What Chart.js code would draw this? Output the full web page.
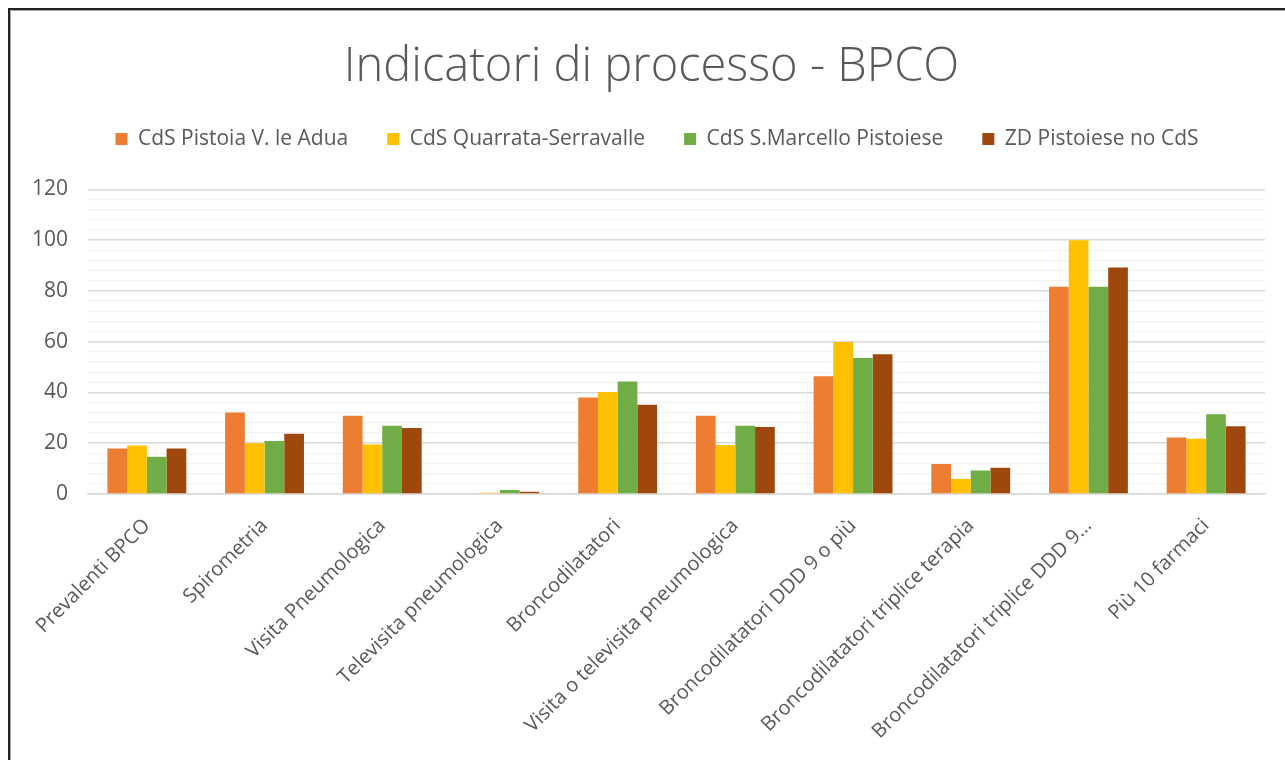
<!DOCTYPE html>
<html>
<head>
<meta charset="utf-8">
<title>Indicatori di processo - BPCO</title>
<script src="https://cdn.jsdelivr.net/npm/chart.js@4/dist/chart.umd.min.js"></script>
<style>
  html, body { margin: 0; padding: 0; background: #fff; overflow: hidden; }
  #wrap { position: relative; width: 1285px; height: 760px; }
  #frame { position: absolute; left: 8px; top: 8px; right: -10px; bottom: -10px;
           border-top: 2px solid #222; border-left: 2px solid #222;
           box-shadow: inset 1px 1px 0 #aaa; pointer-events: none; }
  canvas { position: absolute; left: 0; top: 0; }
</style>
</head>
<body>
<div id="wrap">
  <canvas id="bpcoChart" width="1285" height="760"></canvas>
  <div id="frame"></div>
</div>
<script>
// categories and series (percentages per indicatore)
const categories = [
  'Prevalenti BPCO', 'Spirometria', 'Visita Pneumologica', 'Televisita pneumologica',
  'Broncodilatatori', 'Visita o televisita pneumologica', 'Broncodilatatori DDD 9 o più',
  'Broncodilatatori triplice terapia', 'Broncodilatatori triplice DDD 9…', 'Più 10 farmaci'
];
const seriesNames = ['CdS Pistoia V. le Adua', 'CdS Quarrata-Serravalle', 'CdS S.Marcello Pistoiese', 'ZD Pistoiese no CdS'];
const pistoia   = [17.9, 32.1, 30.8, 0,   38.0, 30.8, 46.4, 11.8, 81.6, 22.3];
const quarrata  = [19.1, 20.0, 19.5, 0.5, 40.2, 19.3, 59.9, 5.9, 100.0, 21.8];
const marcello  = [14.7, 20.9, 26.9, 1.6, 44.3, 26.9, 53.6, 9.3, 81.6, 31.4];
const zdNoCds   = [17.9, 23.7, 26.0, 0.9, 35.2, 26.4, 55.1, 10.3, 89.2, 26.7];
const yTicks = [0, 20, 40, 60, 80, 100, 120];

const colors = ['#ED7D31', '#FFC000', '#70AD47', '#9E480E'];
const txt = '#595959';
const fam = '"Open Sans", "Liberation Sans", sans-serif';

const data = {
  labels: categories,
  datasets: [pistoia, quarrata, marcello, zdNoCds].map((vals, i) => ({
    label: seriesNames[i],
    data: vals,
    backgroundColor: colors[i],
    borderWidth: 0,
    barPercentage: 1,
    categoryPercentage: 0.67
  }))
};

// extra room under the legend, and nudge title/legend to the centre of the frame
const headerTweaks = {
  id: 'headerTweaks',
  afterInit(chart) {
    const fit = chart.legend.fit;
    chart.legend.fit = function () { fit.call(this); this.height += 30; };
  },
  afterLayout(chart) {
    chart.legend.left += 29;
    chart.titleBlock.left += 18;
  }
};

new Chart(document.getElementById('bpcoChart'), {
  type: 'bar',
  data,
  plugins: [headerTweaks],
  options: {
    responsive: false,
    animation: false,
    layout: { padding: { left: 20, right: 20, top: 14, bottom: 0 } },
    plugins: {
      title: {
        display: true,
        text: 'Indicatori di processo - BPCO',
        color: txt,
        font: { family: fam, size: 47, weight: '300' },
        padding: { top: 25, bottom: -6 }
      },
      legend: {
        position: 'top',
        labels: {
          color: txt,
          font: { family: fam, size: 21 },
          boxWidth: 12,
          boxHeight: 12,
          padding: 39
        }
      },
      tooltip: { enabled: false }
    },
    scales: {
      x: {
        grid: { display: false },
        border: { display: true, color: '#d9d9d9', width: 1.5 },
        ticks: {
          color: txt,
          font: { family: fam, size: 20 },
          minRotation: 45,
          maxRotation: 45,
          autoSkip: false,
          padding: 12
        },
        afterFit: (s) => { s.height = 266; }
      },
      y: {
        min: 0,
        max: 120,
        border: { display: false },
        grid: {
          drawTicks: false,
          color: (c) => yTicks.includes(c.tick.value) ? '#d9d9d9' : '#f2f2f2',
          lineWidth: (c) => yTicks.includes(c.tick.value) ? 1.5 : 1.2
        },
        ticks: {
          stepSize: 4,
          autoSkip: false,
          color: txt,
          font: { family: fam, size: 21 },
          padding: 20,
          callback: (v) => yTicks.includes(v) ? v : ''
        },
        afterFit: (s) => { s.width = 68; }
      }
    }
  }
});
</script>
</body>
</html>
